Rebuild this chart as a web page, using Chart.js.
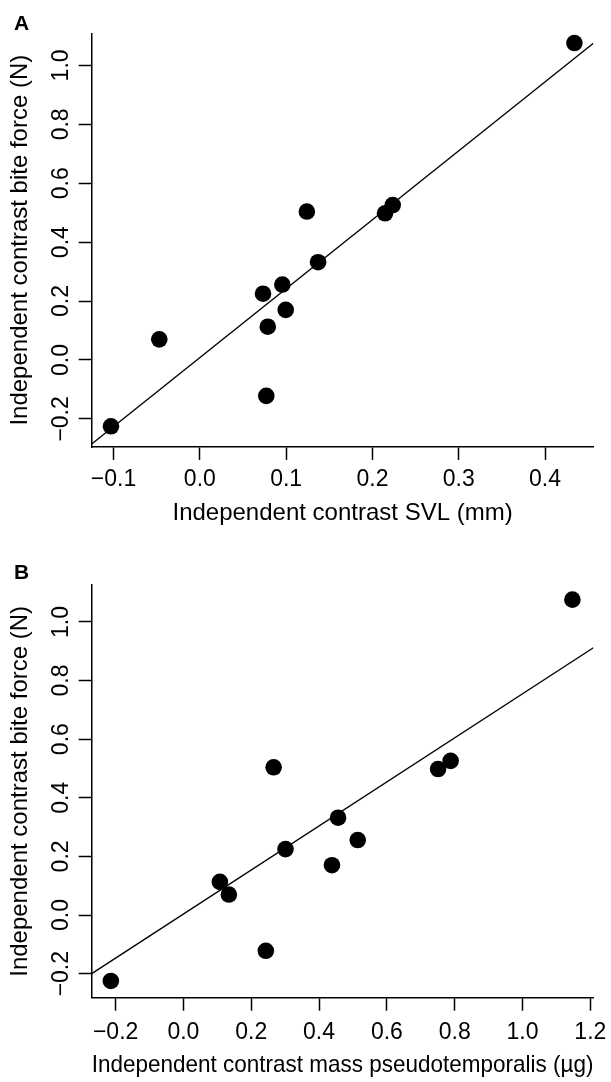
<!DOCTYPE html>
<html>
<head>
<meta charset="utf-8">
<script src="https://cdn.jsdelivr.net/npm/chart.js@4.4.1/dist/chart.umd.min.js"></script>
<style>
  html, body { margin: 0; padding: 0; background: #fff; }
  .panel { position: relative; width: 611px; height: 541px; }
</style>
</head>
<body>
<div class="panel"><canvas id="chartA"></canvas></div>
<div class="panel"><canvas id="chartB"></canvas></div>
<script>
// independent contrasts, one entry per contrast (same order in every array)
const biteForce = [0.504, 0.526, 0.498, 0.332, 0.256, 0.225, 0.170, 0.113, -0.225, 0.070, -0.122, 1.076];
const svl = [0.124, 0.2235, 0.2146, 0.137, 0.0956, 0.0732, 0.0995, 0.0787, -0.103, -0.047, 0.077, 0.434];
const pseudotemporalis = [0.266, 0.788, 0.751, 0.456, 0.514, 0.301, 0.438, 0.1075, -0.214, 0.134, 0.243, 1.147];

// regression lines (end points)
const fitSvlX = [-0.1253, 0.456];
const fitSvlY = [-0.285, 1.075];
const fitMassX = [-0.2705, 1.209];
const fitMassY = [-0.200, 0.912];

// tick labels
const svlTicks = [-0.1, 0.0, 0.1, 0.2, 0.3, 0.4];
const massTicks = [-0.2, 0.0, 0.2, 0.4, 0.6, 0.8, 1.0, 1.2];
const forceTicks = [-0.2, 0.0, 0.2, 0.4, 0.6, 0.8, 1.0];

const FONT = '"Liberation Sans", Arial, Helvetica, sans-serif';
const fmt = v => Number(v).toFixed(1).replace('-', '\u2212');

// R style rotated y tick labels + panel letter
const rLabels = {
    id: 'rLabels',
    afterDraw(chart, args, opts) {
        const ctx = chart.ctx;
        const y = chart.scales.y;
        ctx.save();
        ctx.fillStyle = '#000';
        ctx.font = '23px ' + FONT;
        ctx.textAlign = 'center';
        ctx.textBaseline = 'alphabetic';
        y.ticks.forEach(t => {
            ctx.save();
            ctx.translate(opts.labelX, y.getPixelForValue(t.value));
            ctx.rotate(-Math.PI / 2);
            ctx.fillText(fmt(t.value), 0, 0);
            ctx.restore();
        });
        ctx.font = 'bold 21px ' + FONT;
        ctx.textAlign = 'left';
        ctx.fillText(opts.letter, opts.letterX, opts.letterY);
        ctx.restore();
    }
};

const makeChart = (canvasId, xs, cfg) => {
    const canvas = document.getElementById(canvasId);
    if (!canvas) {
        console.error('Canvas not found:', canvasId);
        return;
    }
    return new Chart(canvas.getContext('2d'), {
        type: 'scatter',
        data: {
            datasets: [
                {
                    data: cfg.fitX.map((x, i) => ({ x: x, y: cfg.fitY[i] })),
                    showLine: true,
                    borderColor: '#000',
                    borderWidth: 1.4,
                    pointRadius: 0
                },
                {
                    data: xs.map((x, i) => ({ x: x, y: biteForce[i] })),
                    backgroundColor: '#000',
                    borderWidth: 0,
                    pointRadius: 8.3
                }
            ]
        },
        options: {
            responsive: true,
            maintainAspectRatio: false,
            animation: false,
            devicePixelRatio: 1,
            layout: { padding: { left: 0, top: cfg.top, right: 17.6, bottom: 0 } },
            plugins: {
                legend: { display: false },
                tooltip: { enabled: false },
                rLabels: { labelX: 68.3, letter: cfg.letter, letterX: 14, letterY: cfg.letterY }
            },
            scales: {
                x: {
                    type: 'linear',
                    min: cfg.xMin,
                    max: cfg.xMax,
                    afterBuildTicks: s => { s.ticks = cfg.xTicks.map(v => ({ value: v })); },
                    afterFit: s => { s.height = cfg.xHeight; s.paddingLeft = 0; s.paddingRight = 0; },
                    ticks: {
                        callback: v => fmt(v),
                        autoSkip: false,
                        maxRotation: 0,
                        color: '#000',
                        padding: cfg.tickPad,
                        font: { family: FONT, size: 23 }
                    },
                    grid: { drawOnChartArea: false, drawTicks: true, tickLength: 13, tickColor: '#000', tickWidth: 1.5 },
                    border: { display: true, color: '#000', width: 1.5 },
                    title: {
                        display: true,
                        text: cfg.xTitle,
                        color: '#000',
                        font: { family: FONT, size: 24 },
                        padding: { top: 0, bottom: cfg.titlePad }
                    }
                },
                y: {
                    type: 'linear',
                    min: cfg.yMin,
                    max: cfg.yMax,
                    afterBuildTicks: s => { s.ticks = forceTicks.map(v => ({ value: v })); },
                    afterFit: s => { s.width = 91.7; s.paddingTop = 0; s.paddingBottom = 0; },
                    ticks: { display: false },
                    grid: { drawOnChartArea: false, drawTicks: true, tickLength: 13, tickColor: '#000', tickWidth: 1.5 },
                    border: { display: true, color: '#000', width: 1.5 },
                    title: {
                        display: true,
                        text: 'Independent contrast bite force (N)',
                        color: '#000',
                        font: { family: FONT, size: 24 },
                        padding: { top: 6, bottom: 0 }
                    }
                }
            }
        },
        plugins: [rLabels]
    });
};

makeChart('chartA', svl, {
    letter: 'A', letterY: 30,
    top: 33.3, xHeight: 94,
    xMin: -0.1253, xMax: 0.456, yMin: -0.2954, yMax: 1.109,
    xTicks: svlTicks, fitX: fitSvlX, fitY: fitSvlY,
    tickPad: 6, titlePad: 13,
    xTitle: 'Independent contrast SVL (mm)'
});

makeChart('chartB', pseudotemporalis, {
    letter: 'B', letterY: 38,
    top: 44, xHeight: 84.3,
    xMin: -0.2705, xMax: 1.209, yMin: -0.282, yMax: 1.126,
    xTicks: massTicks, fitX: fitMassX, fitY: fitMassY,
    tickPad: 8, titlePad: 2,
    xTitle: 'Independent contrast mass pseudotemporalis (\u00b5g)'
});
</script>
</body>
</html>
